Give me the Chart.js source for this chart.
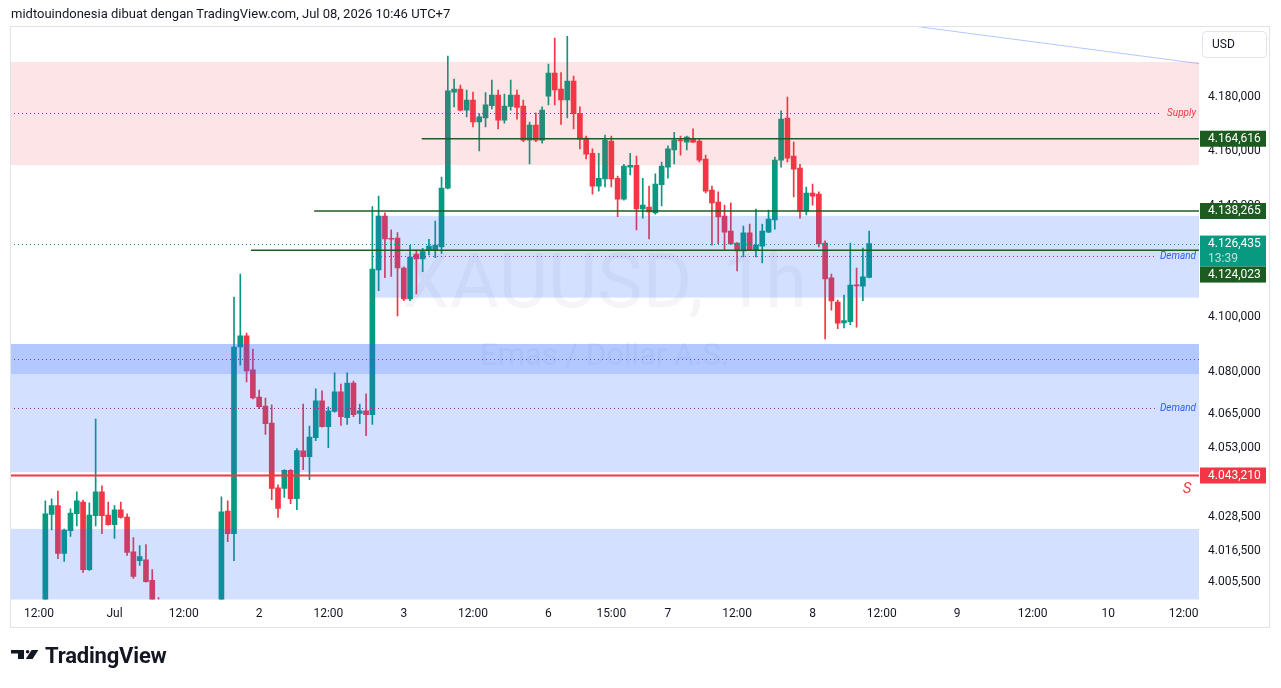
<!DOCTYPE html>
<html>
<head>
<meta charset="utf-8">
<title>XAUUSD 1h</title>
<script src="https://cdn.jsdelivr.net/npm/chart.js@4.4.1/dist/chart.umd.min.js"></script>
<style>
  html, body { margin: 0; padding: 0; background: #fff; }
  #wrap { position: relative; width: 1281px; height: 688px; overflow: hidden; }
  #chart { position: absolute; left: 0; top: 0; }
  .header { position: absolute; left: 11px; top: 6px; font: 13px Roboto, sans-serif; color: #131722; white-space: nowrap; }
  .brand { position: absolute; left: 11px; top: 642px; height: 26px; display: flex; align-items: center; }
  .brand span { font: bold 22px Roboto, sans-serif; color: #131722; margin-left: 6px; letter-spacing: -0.2px; }
</style>
</head>
<body>
<div id="wrap">
  <canvas id="chart" width="1281" height="688"></canvas>
  <div class="header">midtouindonesia dibuat dengan TradingView.com, Jul 08, 2026 10:46 UTC+7</div>
  <div class="brand">
    <svg width="28" height="10" viewBox="0 0 28 10">
      <path d="M0 0H13V9H7V3.6H0Z" fill="#131722"/>
      <circle cx="16.6" cy="1.8" r="1.8" fill="#131722"/>
      <path d="M20.6 0H27.4L21.6 9H14.8Z" fill="#131722"/>
    </svg>
    <span>TradingView</span>
  </div>
</div>
<script>
  // Hourly candles, bar 0 = Jul 1 00:00 (weekend and daily break skipped)
  var firstBar = -11;
  var opens = [
    3993.0, 4029.4, 4032.5, 4015.6, 4023.7, 4029.7, 4033.8, 4009.9, 4029.0, 4037.4, 4029.2,
    4025.8, 4031.0, 4028.5, 4016.2, 4013.1, 4013.4, 4006.1, 3996.5, 3992.0, 3988.4,
    3990.6, 3986.2, 3983.5, 3987.7, 3991.3, 3989.0, 3993.6, 3994.8, 4030.6, 4022.6,
    4089.1, 4093.1, 4080.9, 4071.2, 4067.9, 4061.9, 4038.8, 4038.6, 4045.0, 4035.0,
    4052.0, 4049.9, 4056.7, 4069.8, 4060.6, 4066.0, 4073.0, 4063.8, 4076.2, 4065.3,
    4066.2, 4064.9, 4116.9, 4136.4, 4128.3, 4128.4, 4117.6, 4106.4, 4122.6, 4120.9,
    4124.1, 4124.1, 4125.2, 4146.6, 4181.7, 4182.8, 4175.1, 4178.8, 4170.8, 4172.2,
    4176.7, 4180.6, 4171.4, 4176.5, 4180.6, 4176.6, 4164.1, 4169.6, 4164.1, 4180.2,
    4188.7, 4182.8, 4178.8, 4185.8, 4173.8, 4164.9, 4159.3, 4147.3, 4149.9, 4163.8,
    4150.2, 4142.6, 4154.2, 4154.9, 4139.0, 4139.7, 4137.6, 4147.8, 4154.2, 4160.5,
    4164.1, 4163.4, 4164.5, 4163.8, 4157.2, 4145.9, 4141.5, 4136.4, 4131.0, 4126.6,
    4123.8, 4130.3, 4124.1, 4125.5, 4130.6, 4135.0, 4156.8, 4172.2, 4158.3, 4153.9,
    4138.2, 4144.8, 4144.4, 4126.6, 4114.0, 4105.3, 4097.8, 4098.2, 4111.4, 4111.0,
    4114.2
  ];
  var highs = [
    4034.2, 4034.9, 4037.7, 4024.2, 4031.4, 4037.4, 4034.5, 4033.5, 4063.3, 4039.5, 4033.8,
    4032.5, 4033.8, 4029.6, 4021.2, 4018.4, 4018.7, 4009.9, 4000.1, 3996.0, 3993.0,
    3995.5, 3991.0, 3989.9, 3994.2, 3996.8, 3995.0, 3997.8, 4035.6, 4034.2, 4107.1,
    4115.4, 4094.1, 4088.4, 4073.7, 4070.8, 4068.4, 4039.9, 4045.3, 4045.3, 4052.8,
    4068.7, 4060.8, 4074.1, 4073.4, 4067.7, 4079.8, 4075.8, 4079.8, 4076.9, 4068.7,
    4072.3, 4139.9, 4143.7, 4137.6, 4131.4, 4130.4, 4118.0, 4125.8, 4124.1, 4124.7,
    4128.0, 4134.6, 4150.6, 4195.0, 4186.5, 4184.3, 4182.5, 4181.7, 4173.8, 4181.5,
    4186.1, 4182.5, 4181.0, 4186.1, 4182.5, 4178.8, 4170.7, 4174.0, 4176.3, 4192.0,
    4201.6, 4188.9, 4202.3, 4187.6, 4176.3, 4165.6, 4160.9, 4159.3, 4166.0, 4165.6,
    4151.0, 4155.3, 4159.3, 4158.3, 4150.2, 4147.3, 4151.8, 4156.1, 4162.0, 4167.0,
    4165.6, 4165.6, 4168.2, 4164.5, 4158.6, 4147.3, 4145.2, 4140.4, 4141.2, 4126.8,
    4132.8, 4133.5, 4139.0, 4133.5, 4138.6, 4157.9, 4174.8, 4179.9, 4163.4, 4155.3,
    4147.0, 4148.1, 4145.2, 4127.4, 4115.4, 4106.0, 4107.8, 4126.6, 4117.6, 4124.8,
    4131.0
  ];
  var lows = [
    3990.0, 4023.9, 4013.8, 4012.8, 4021.6, 4025.3, 4008.9, 4009.6, 4025.3, 4022.6, 4025.6,
    4020.9, 4028.1, 4014.9, 4006.8, 4011.4, 4005.5, 3994.0, 3990.2, 3985.5, 3982.0,
    3984.7, 3979.8, 3980.1, 3985.0, 3986.9, 3984.4, 3988.3, 3991.5, 4019.8, 4013.1,
    4082.6, 4076.6, 4070.5, 4067.0, 4057.8, 4034.6, 4028.3, 4035.4, 4033.2, 4031.1,
    4045.3, 4041.7, 4055.6, 4060.4, 4053.1, 4065.8, 4061.0, 4061.4, 4064.2, 4061.7,
    4057.4, 4061.4, 4109.4, 4114.1, 4114.5, 4100.3, 4105.8, 4105.8, 4108.2, 4116.3,
    4122.3, 4121.3, 4122.9, 4146.3, 4176.3, 4174.8, 4172.6, 4168.9, 4160.2, 4168.9,
    4175.5, 4168.2, 4170.3, 4175.1, 4171.8, 4163.5, 4155.4, 4163.5, 4163.0, 4177.0,
    4177.0, 4169.9, 4172.2, 4168.2, 4160.9, 4157.2, 4144.4, 4145.5, 4147.0, 4147.0,
    4136.2, 4142.2, 4151.4, 4131.4, 4135.7, 4128.1, 4137.1, 4140.1, 4150.2, 4155.4,
    4158.6, 4160.5, 4163.2, 4156.1, 4144.8, 4125.9, 4126.3, 4124.1, 4126.1, 4116.5,
    4121.6, 4123.9, 4121.6, 4119.4, 4130.4, 4131.7, 4154.2, 4156.1, 4143.4, 4135.7,
    4136.8, 4140.4, 4125.2, 4092.0, 4102.4, 4095.7, 4096.0, 4097.1, 4096.2, 4105.8,
    4114.0
  ];
  var closes = [
    4029.6, 4032.5, 4015.6, 4023.9, 4029.9, 4034.2, 4009.9, 4029.2, 4037.4, 4029.0, 4025.8,
    4031.0, 4028.3, 4016.0, 4007.5, 4014.5, 4005.7, 3996.5, 3992.0, 3988.4, 3990.6,
    3986.2, 3983.5, 3987.7, 3991.3, 3989.0, 3993.6, 3994.8, 4030.3, 4022.6, 4089.1,
    4093.1, 4080.5, 4070.9, 4067.7, 4061.7, 4038.6, 4031.5, 4045.0, 4035.0, 4052.1,
    4049.9, 4056.9, 4069.8, 4060.6, 4066.2, 4073.0, 4064.2, 4076.2, 4064.9, 4066.2,
    4064.9, 4117.2, 4136.4, 4128.1, 4128.0, 4117.6, 4106.4, 4121.5, 4120.9, 4123.5,
    4125.5, 4125.9, 4146.6, 4182.2, 4182.8, 4175.1, 4178.8, 4170.8, 4172.6, 4177.0,
    4180.6, 4171.4, 4176.6, 4180.6, 4176.1, 4164.1, 4169.6, 4164.1, 4175.1, 4188.7,
    4182.5, 4178.8, 4185.8, 4173.8, 4164.5, 4159.0, 4147.3, 4150.2, 4164.1, 4149.9,
    4142.6, 4154.6, 4154.9, 4139.0, 4140.4, 4137.9, 4148.1, 4154.6, 4160.9, 4164.1,
    4163.8, 4165.2, 4163.4, 4156.8, 4145.5, 4141.2, 4136.1, 4130.6, 4126.3, 4123.8,
    4130.3, 4124.1, 4125.9, 4131.0, 4135.3, 4156.8, 4171.8, 4157.5, 4153.5, 4138.2,
    4144.8, 4143.7, 4126.3, 4113.6, 4105.7, 4097.7, 4098.6, 4111.4, 4111.1, 4114.4,
    4126.435
  ];

  // Axis ticks
  var xTickPos = [-12, 0, 11, 23, 34, 46, 57, 69, 79, 88, 99, 111, 122, 134, 146, 158, 170];
  var xTickText = ["12:00", "Jul", "12:00", "2", "12:00", "3", "12:00", "6", "15:00", "7",
    "12:00", "8", "12:00", "9", "12:00", "10", "12:00"];
  var yTicks = [4180, 4160, 4140, 4100, 4080, 4065, 4053, 4028.5, 4016.5, 4005.5];

  // Drawings: zones (null start = from left edge)
  var zoneKind = ["supply", "demand", "demand", "demand", "demand"];
  var zoneStart = [null, 41.4, null, null, null];
  var zoneTop = [4192.8, 4136.5, 4090.2, 4090.2, 4024.3];
  var zoneBottom = [4155.0, 4106.9, 4044.4, 4079.4, 3990.0];

  // Dotted mid lines and their tags
  var midPrice = [4174.0, 4121.9, 4084.7, 4067.1];
  var midStart = [null, 41.1, null, null];
  var midTag = ["Supply", "Demand", "", "Demand"];

  // Horizontal rays
  var levelPrice = [4164.616, 4138.265, 4124.023];
  var levelStart = [48.85, 31.75, 21.7];
  var stopPrice = 4043.21;
  var lastPrice = 4126.435;
  var countdown = "13:39";

  // Trend line
  var trendBars = [120, 172.5];
  var trendPrices = [4208.2, 4192.2];

  var upColor = "#089981";
  var downColor = "#f23645";
  var levelColor = "#1d5c20";

  function fmt(v) {
    var s = v.toFixed(3).split(".");
    return s[0].replace(/\B(?=(\d{3})+(?!\d))/g, ".") + "," + s[1];
  }

  var barColors = opens.map(function (o, k) { return closes[k] >= o ? upColor : downColor; });
  var bodies = opens.map(function (o, k) { return { x: firstBar + k, y: [o, closes[k]] }; });
  var wicks = lows.map(function (l, k) { return { x: firstBar + k, y: [l, highs[k]] }; });
  var trend = trendBars.map(function (b, k) { return { x: b, y: trendPrices[k] }; });

  var drawings = {
    id: "drawings",
    beforeDatasetsDraw: function (chart) {
      var a = chart.chartArea, c = chart.ctx;
      var cx = (a.left + a.right) / 2;
      c.save();
      c.beginPath(); c.rect(a.left, a.top, a.right - a.left, a.bottom - a.top); c.clip();
      c.fillStyle = "rgba(120,123,134,0.08)";
      c.textAlign = "center"; c.textBaseline = "middle";
      c.font = "76px Roboto";
      c.fillText("XAUUSD, 1h", cx, 288);
      c.font = "31px Roboto";
      c.fillText("Emas / Dollar A.S.", cx, 357);
      c.restore();
    },
    afterDatasetsDraw: function (chart) {
      var a = chart.chartArea, c = chart.ctx, x = chart.scales.x, y = chart.scales.y;
      c.save();
      c.beginPath(); c.rect(a.left, a.top, a.right - a.left, a.bottom - a.top); c.clip();

      // zones
      zoneKind.forEach(function (kind, k) {
        var x0 = zoneStart[k] === null ? a.left : x.getPixelForValue(zoneStart[k]);
        var y0 = y.getPixelForValue(zoneTop[k]);
        var y1 = y.getPixelForValue(zoneBottom[k]);
        c.fillStyle = kind === "supply" ? "rgba(242,54,69,0.13)" : "rgba(41,98,255,0.2)";
        c.fillRect(x0, y0, a.right - x0, y1 - y0);
      });

      // dotted mid lines with tags
      c.font = "italic 10px Roboto";
      c.textBaseline = "middle";
      c.textAlign = "right";
      midPrice.forEach(function (p, k) {
        var py = Math.round(y.getPixelForValue(p)) + 0.5;
        var x0 = midStart[k] === null ? a.left : x.getPixelForValue(midStart[k]);
        var x1 = a.right;
        if (midTag[k]) {
          var w = c.measureText(midTag[k]).width;
          x1 = a.right - 4 - w - 4;
          c.fillStyle = midTag[k] === "Supply" ? downColor : "#2962ff";
          c.fillText(midTag[k], a.right - 3, py);
        }
        c.strokeStyle = "#9c27b0";
        c.lineWidth = 1;
        c.setLineDash([1, 3]);
        c.beginPath(); c.moveTo(x0, py); c.lineTo(x1, py); c.stroke();
      });

      // last price dotted line
      var ly = Math.round(y.getPixelForValue(lastPrice)) + 0.5;
      c.strokeStyle = upColor;
      c.setLineDash([1, 3]);
      c.beginPath(); c.moveTo(a.left, ly); c.lineTo(a.right, ly); c.stroke();
      c.setLineDash([]);

      // horizontal rays
      c.strokeStyle = levelColor;
      c.lineWidth = 1.5;
      levelPrice.forEach(function (p, k) {
        var py = y.getPixelForValue(p);
        c.beginPath(); c.moveTo(x.getPixelForValue(levelStart[k]), py); c.lineTo(a.right, py); c.stroke();
      });

      // stop line
      var sy = y.getPixelForValue(stopPrice);
      c.strokeStyle = downColor;
      c.lineWidth = 2;
      c.beginPath(); c.moveTo(a.left, sy); c.lineTo(a.right, sy); c.stroke();
      c.fillStyle = downColor;
      c.font = "italic 15px Roboto";
      c.textAlign = "center";
      c.fillText("S", a.right - 12, sy + 14);
      c.restore();
    },
    afterDraw: function (chart) {
      var a = chart.chartArea, c = chart.ctx, y = chart.scales.y;
      c.save();

      // price tags on the axis
      var tags = levelPrice.map(function (p) { return { p: p, bg: levelColor, sub: "" }; });
      tags.push({ p: lastPrice, bg: upColor, sub: countdown });
      tags.push({ p: stopPrice, bg: downColor, sub: "" });
      tags.sort(function (m, n) { return n.p - m.p; });
      var prevBottom = -1;
      c.font = "12px Roboto";
      c.textAlign = "left";
      c.textBaseline = "middle";
      tags.forEach(function (t) {
        var h = t.sub ? 31 : 16;
        var top = Math.max(y.getPixelForValue(t.p) - 8, prevBottom);
        c.fillStyle = t.bg;
        c.fillRect(a.right + 1, top, 66, h);
        c.fillStyle = "#ffffff";
        c.fillText(fmt(t.p), a.right + 9, top + 8.5);
        if (t.sub) {
          c.fillStyle = "rgba(255,255,255,0.72)";
          c.fillText(t.sub, a.right + 9, top + 23);
        }
        prevBottom = top + h;
      });

      // currency box
      c.strokeStyle = "#e0e3eb";
      c.lineWidth = 1;
      c.beginPath();
      c.roundRect(a.right + 3.5, 31.5, 64, 26, 4);
      c.stroke();
      c.fillStyle = "#131722";
      c.fillText("USD", a.right + 13, 45);

      // frame
      c.strokeStyle = "#e0e3eb";
      c.strokeRect(10.5, 26.5, 1259, 601);
      c.restore();
    }
  };

  var ctx = document.getElementById("chart").getContext("2d");
  Chart.defaults.font.family = "Roboto";
  Chart.defaults.font.size = 12;
  Chart.defaults.color = "#131722";

  var myChart = new Chart(ctx, {
    type: "bar",
    data: {
      datasets: [
        {
          label: "body",
          data: bodies,
          backgroundColor: barColors,
          barThickness: 5,
          minBarLength: 1,
          grouped: false,
          clip: 0,
        },
        {
          label: "wick",
          data: wicks,
          backgroundColor: barColors,
          barThickness: 1,
          grouped: false,
          clip: 0,
        },
        {
          type: "line",
          label: "trend",
          data: trend,
          borderColor: "rgba(41,98,255,0.35)",
          borderWidth: 1,
          pointRadius: 0,
          clip: 0,
        },
      ],
    },
    options: {
      responsive: false,
      animation: false,
      layout: { padding: { left: 10, top: 27, right: 0, bottom: 0 } },
      plugins: { legend: { display: false }, tooltip: { enabled: false } },
      scales: {
        x: {
          type: "linear",
          offset: false,
          min: -16.62,
          max: 172.45,
          grid: { display: false, drawTicks: false, offset: false },
          border: { display: false },
          ticks: {
            autoSkip: false,
            maxRotation: 0,
            padding: 7,
            callback: function (v) {
              var k = xTickPos.indexOf(v);
              return k < 0 ? "" : xTickText[k];
            },
          },
          afterBuildTicks: function (scale) {
            scale.ticks = xTickPos.map(function (v) { return { value: v }; });
          },
          afterFit: function (scale) { scale.height = 88.5; },
        },
        y: {
          type: "logarithmic",
          position: "right",
          min: 3999.4,
          max: 4205.7,
          grid: { display: false, drawTicks: false },
          border: { display: false },
          ticks: {
            autoSkip: false,
            padding: 9,
            callback: function (v) { return fmt(v); },
          },
          afterBuildTicks: function (scale) {
            scale.ticks = yTicks.map(function (v) { return { value: v }; });
          },
          afterFit: function (scale) { scale.width = 82; },
        },
      },
    },
    plugins: [drawings],
  });
</script>
</body>
</html>
